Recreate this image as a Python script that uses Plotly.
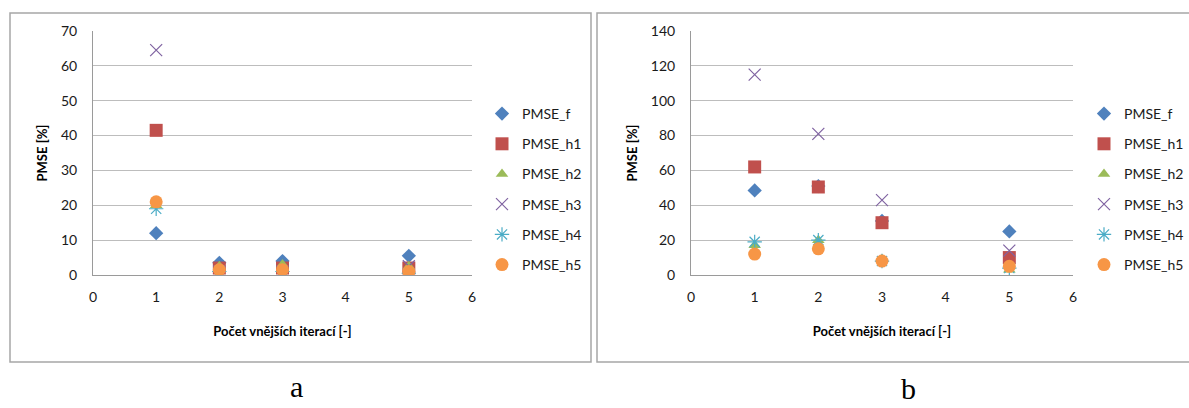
import plotly.graph_objects as go

W, H = 1189, 408

iterations = [1, 2, 3, 5]
series_names = ["PMSE_f", "PMSE_h1", "PMSE_h2", "PMSE_h3", "PMSE_h4", "PMSE_h5"]

# panel a
a_f = [12.0, 3.5, 4.0, 5.5]
a_h1 = [41.5, 2.0, 2.0, 2.0]
a_h2 = [20.0, 2.5, 3.0, 2.5]
a_h3 = [64.5, 1.0, 1.0, 2.5]
a_h4 = [19.0, 1.0, 1.0, 0.5]
a_h5 = [21.0, 1.5, 1.5, 1.0]

# panel b
b_f = [48.5, 51.0, 31.0, 25.0]
b_h1 = [62.0, 50.5, 30.0, 10.0]
b_h2 = [17.0, 20.0, 9.0, 3.0]
b_h3 = [115.0, 81.0, 43.0, 14.0]
b_h4 = [19.0, 20.0, 8.0, 4.0]
b_h5 = [12.0, 15.0, 8.0, 5.0]

colors = ["#4F81BD", "#C0504D", "#9BBB59", "#8064A2", "#4BACC6", "#F79646"]
symbols = ["diamond", "square", "triangle-up", "x-thin-open", "asterisk-open", "circle"]
sizes = [11, 13, 11, 12, 12, 13]

panels = [
    ([a_f, a_h1, a_h2, a_h3, a_h4, a_h5], "x", "y", "legend"),
    ([b_f, b_h1, b_h2, b_h3, b_h4, b_h5], "x2", "y2", "legend2"),
]

fig = go.Figure()
for values, xa, ya, leg in panels:
    for name, vals, c, s, sz in zip(series_names, values, colors, symbols, sizes):
        open_marker = s.endswith("-open")
        fig.add_trace(go.Scatter(
            x=iterations, y=vals, mode="markers", name=name,
            xaxis=xa, yaxis=ya, legend=leg, legendgroup=leg + name,
            marker=dict(symbol=s, size=sz, color=c,
                        line=dict(width=1.2 if open_marker else 0, color=c)),
        ))

def px_x(p):
    return p / W

def px_y(p):
    return 1 - p / H

font_axis = dict(family="Lato, Open Sans, sans-serif", size=14, color="#1a1a1a")
title_font = dict(family="Lato, Open Sans, sans-serif", size=13, color="#000000")
legend_font = dict(family="Lato, Open Sans, sans-serif", size=14, color="#1a1a1a")
letter_font = dict(family="Liberation Serif, serif", size=30, color="#000")

common_x = dict(range=[0, 6], dtick=1, showgrid=False, zeroline=False,
                showline=True, linecolor="#9a9a9a", linewidth=1, automargin=False,
                ticks="", tickfont=font_axis, ticklabelstandoff=9,
                title=dict(text="<b>Počet vnějších iterací [-]</b>", font=title_font, standoff=23))
common_y = dict(showgrid=True, gridcolor="#bdbdbd", gridwidth=1, zeroline=False,
                showline=True, linecolor="#9a9a9a", linewidth=1, automargin=False,
                ticks="", tickfont=font_axis, ticklabelstandoff=12,
                title=dict(text="<b>PMSE [%]</b>", font=title_font, standoff=10))

fig.update_layout(
    width=W, height=H,
    margin=dict(l=0, r=0, t=0, b=0, pad=0, autoexpand=False),
    paper_bgcolor="white", plot_bgcolor="white",
    xaxis=dict(common_x, domain=[px_x(93), px_x(472)], anchor="y"),
    yaxis=dict(common_y, domain=[px_y(275), px_y(31)], range=[0, 70], dtick=10, anchor="x"),
    xaxis2=dict(common_x, domain=[px_x(691), px_x(1073)], anchor="y2"),
    yaxis2=dict(common_y, domain=[px_y(275), px_y(31)], range=[0, 140], dtick=20, anchor="x2"),
    legend=dict(x=px_x(482), y=px_y(98), xanchor="left", yanchor="top",
                font=legend_font, tracegroupgap=9, traceorder="grouped", itemwidth=30,
                bgcolor="rgba(0,0,0,0)"),
    legend2=dict(x=px_x(1084), y=px_y(98), xanchor="left", yanchor="top",
                 font=legend_font, tracegroupgap=9, traceorder="grouped", itemwidth=30,
                 bgcolor="rgba(0,0,0,0)"),
    shapes=[
        dict(type="rect", xref="paper", yref="paper",
             x0=px_x(10), x1=px_x(591), y0=px_y(362), y1=px_y(13),
             line=dict(color="#a6a6a6", width=1.5)),
        dict(type="rect", xref="paper", yref="paper",
             x0=px_x(597), x1=px_x(1195), y0=px_y(362), y1=px_y(13),
             line=dict(color="#a6a6a6", width=1.5)),
    ],
    annotations=[
        dict(text="a", xref="paper", yref="paper", x=px_x(296), y=px_y(386),
             xanchor="center", yanchor="middle",
             showarrow=False, font=letter_font),
        dict(text="b", xref="paper", yref="paper", x=px_x(908), y=px_y(407),
             xanchor="center", yanchor="bottom",
             showarrow=False, font=letter_font),
    ],
)

fig.write_html("out.html")
